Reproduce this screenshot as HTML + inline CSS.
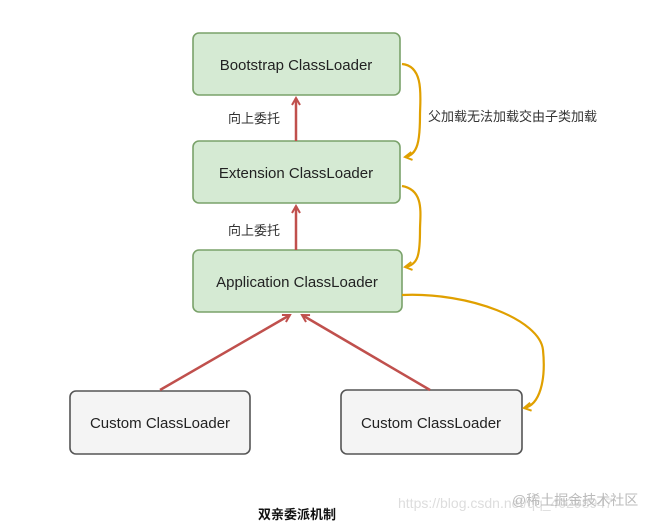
<!DOCTYPE html>
<html><head><meta charset="utf-8"><style>
body{margin:0;background:#fff;width:650px;height:522px;overflow:hidden}
svg text{font-family:"Liberation Sans","Noto Sans CJK SC",sans-serif}
</style></head><body>
<svg width="650" height="522" viewBox="0 0 650 522">
<defs>
<marker id="r" markerWidth="10" markerHeight="10" refX="8" refY="5" orient="auto" markerUnits="userSpaceOnUse"><path d="M1,1 L8,5 L1,9" fill="none" stroke="#c0504d" stroke-width="2"/></marker>
<marker id="y" markerWidth="10" markerHeight="10" refX="8" refY="5" orient="auto" markerUnits="userSpaceOnUse"><path d="M1,1 L8,5 L1,9" fill="none" stroke="#e0a000" stroke-width="2"/></marker>
</defs>
<g stroke="#7aa26a" stroke-width="1.6" fill="#d5ead3">
<rect x="193" y="33" width="207" height="62" rx="6"/>
<rect x="193" y="141" width="207" height="62" rx="6"/>
<rect x="193" y="250" width="209" height="62" rx="6"/>
</g>
<g stroke="#555" stroke-width="1.6" fill="#f4f4f4">
<rect x="70" y="391" width="180" height="63" rx="6"/>
<rect x="341" y="390" width="181" height="64" rx="6"/>
</g>
<g font-size="15" fill="#222" text-anchor="middle">
<text x="296" y="70">Bootstrap ClassLoader</text>
<text x="296" y="178">Extension ClassLoader</text>
<text x="297" y="287">Application ClassLoader</text>
<text x="160" y="428">Custom ClassLoader</text>
<text x="431" y="428">Custom ClassLoader</text>
</g>
<g stroke="#c0504d" stroke-width="2.5" fill="none">
<line x1="296" y1="141" x2="296" y2="98" marker-end="url(#r)"/>
<line x1="296" y1="250" x2="296" y2="206" marker-end="url(#r)"/>
<line x1="160" y1="390" x2="290" y2="315" marker-end="url(#r)"/>
<line x1="430" y1="390" x2="302" y2="315" marker-end="url(#r)"/>
</g>
<g stroke="#e0a000" stroke-width="2.2" fill="none">
<path d="M402,64 C425,66 420,100 420,115 C420,140 418,155 405,157" marker-end="url(#y)"/>
<path d="M402,186 C425,190 420,215 420,230 C420,255 418,265 405,267" marker-end="url(#y)"/>
<path d="M402,295 C470,292 540,320 543,350 C546,380 540,405 524,408" marker-end="url(#y)"/>
</g>
<g font-size="13" fill="#333">
<text x="228" y="123">向上委托</text>
<text x="228" y="235">向上委托</text>
<text x="428" y="121">父加载无法加载交由子类加载</text>
</g>
<text x="297" y="519" font-size="13" font-weight="bold" text-anchor="middle" fill="#111">双亲委派机制</text>
<text x="398" y="508" font-size="14" fill="#ddd">https://blog.csdn.net/qq_40298947</text>
<text x="512" y="505" font-size="14" fill="#bbb">@稀土掘金技术社区</text>
</svg>
</body></html>
